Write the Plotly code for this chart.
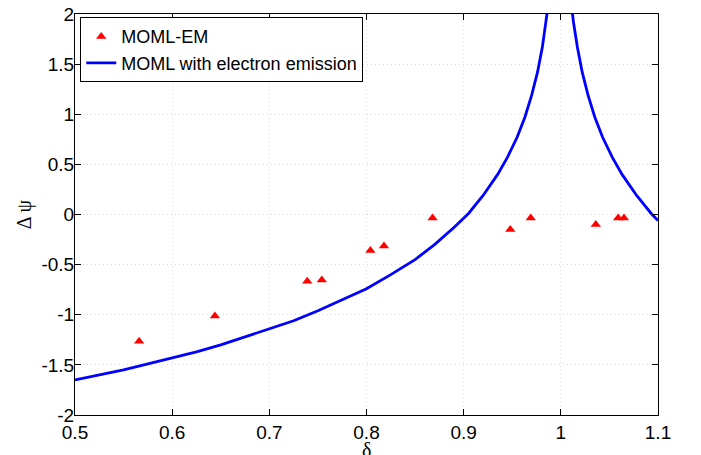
import plotly.graph_objects as go

# measured points (MOML-EM)
delta_em = [0.566, 0.644, 0.739, 0.754, 0.804, 0.818, 0.868, 0.948, 0.969, 1.036, 1.059, 1.065]
dpsi_em = [-1.265, -1.012, -0.667, -0.653, -0.358, -0.315, -0.036, -0.149, -0.036, -0.10, -0.036, -0.036]

# model curve, left and right of the resonance at delta ~ 1
delta_left = [0.50, 0.525, 0.55, 0.575, 0.60, 0.625, 0.65, 0.675, 0.70, 0.725, 0.75, 0.775,
              0.80, 0.825, 0.85, 0.87, 0.89, 0.905, 0.92, 0.935, 0.945, 0.955, 0.963,
              0.970, 0.976, 0.981, 0.985, 0.988, 0.992, 0.996]
dpsi_left = [-1.65, -1.60, -1.55, -1.49, -1.43, -1.37, -1.30, -1.22, -1.14, -1.06, -0.96, -0.85,
             -0.74, -0.60, -0.45, -0.30, -0.13, 0.01, 0.19, 0.40, 0.57, 0.77, 0.97,
             1.19, 1.42, 1.67, 1.92, 2.16, 2.61, 3.46]
delta_right = [1.002, 1.006, 1.010, 1.013, 1.017, 1.022, 1.028, 1.035, 1.043, 1.053, 1.063,
               1.078, 1.093, 1.100]
dpsi_right = [3.46, 2.61, 2.16, 1.92, 1.67, 1.42, 1.19, 0.97, 0.77, 0.57, 0.40,
              0.19, 0.01, -0.06]

x_ticks = [0.5, 0.6, 0.7, 0.8, 0.9, 1.0, 1.1]
x_labels = ["0.5", "0.6", "0.7", "0.8", "0.9", "1", "1.1"]
y_ticks = [-2, -1.5, -1, -0.5, 0, 0.5, 1, 1.5, 2]
y_labels = ["-2", "-1.5", "-1", "-0.5", "0", "0.5", "1", "1.5", "2"]

fig = go.Figure()

fig.add_trace(go.Scatter(
    x=delta_em, y=dpsi_em,
    mode="markers", name="MOML-EM",
    marker=dict(symbol="triangle-up", size=9, color="#ff0000"),
))

fig.add_trace(go.Scatter(
    x=delta_left + [None] + delta_right,
    y=dpsi_left + [None] + dpsi_right,
    mode="lines", name="MOML with electron emission",
    line=dict(color="#0000ff", width=2.8),
    connectgaps=False,
))

axis_common = dict(
    showline=True, linecolor="black", linewidth=1, mirror="ticks",
    ticks="inside", ticklen=6, tickcolor="black", tickwidth=1,
    showgrid=True, gridcolor="#dadada", griddash="1px,3px", gridwidth=1,
    zeroline=False, automargin=False, ticklabeloverflow="allow",
    tickfont=dict(family="Liberation Sans", size=19, color="black"),
)

# the page body adds an 8px offset, so the figure is a bit smaller than the window
fig.update_layout(
    width=693, height=447,
    paper_bgcolor="white", plot_bgcolor="white",
    margin=dict(l=67, r=43, t=6, b=40),
    xaxis=dict(axis_common, range=[0.5, 1.1], tickvals=x_ticks, ticktext=x_labels),
    yaxis=dict(
        axis_common, range=[-2, 2], tickvals=y_ticks, ticktext=y_labels,
        ticklabelstandoff=-4,
        title=dict(text="Δ ψ", font=dict(family="Liberation Serif", size=20, color="black"), standoff=4),
    ),
    legend=dict(
        x=0.009, y=0.992, xanchor="left", yanchor="top",
        bgcolor="white", bordercolor="black", borderwidth=1,
        font=dict(family="Liberation Sans", size=18, color="black"),
        tracegroupgap=0, itemwidth=30,
    ),
    showlegend=True,
)

# x title sits below the tick labels, closer than the axis title allows
fig.add_annotation(
    text="δ", xref="paper", yref="paper", x=0.5, y=-0.1165,
    xanchor="center", yanchor="bottom", showarrow=False, borderpad=0,
    font=dict(family="Liberation Serif", size=20, color="black"),
)

fig.write_html("out.html")
